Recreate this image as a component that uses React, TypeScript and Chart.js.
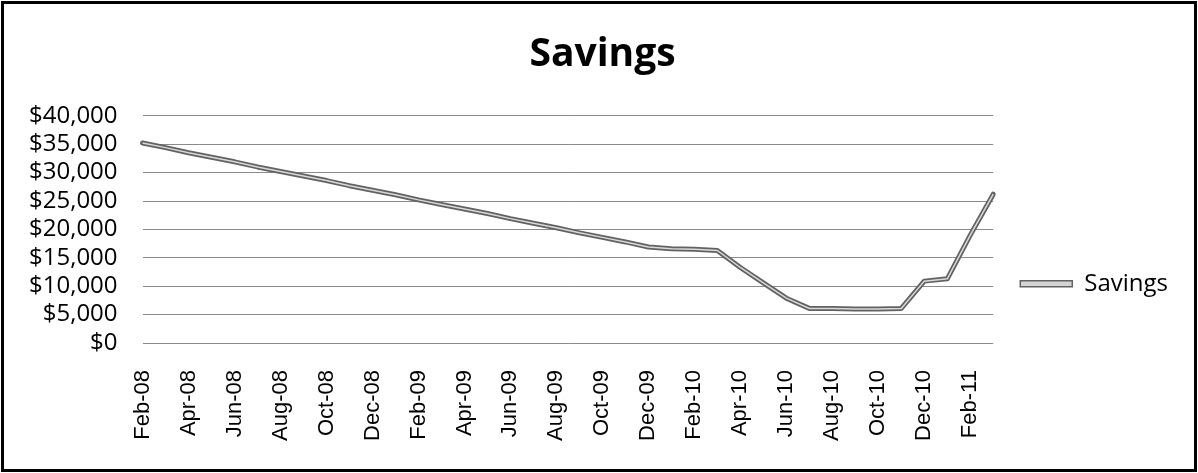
import React, { useEffect, useRef } from "react";
import { Chart, registerables } from "chart.js";

Chart.register(...registerables);

const months: string[] = [
  "Feb-08", "Mar-08", "Apr-08", "May-08", "Jun-08", "Jul-08", "Aug-08", "Sep-08",
  "Oct-08", "Nov-08", "Dec-08", "Jan-09", "Feb-09", "Mar-09", "Apr-09", "May-09",
  "Jun-09", "Jul-09", "Aug-09", "Sep-09", "Oct-09", "Nov-09", "Dec-09", "Jan-10",
  "Feb-10", "Mar-10", "Apr-10", "May-10", "Jun-10", "Jul-10", "Aug-10", "Sep-10",
  "Oct-10", "Nov-10", "Dec-10", "Jan-11", "Feb-11", "Mar-11",
];

const savings: number[] = [
  35200, 34400, 33500, 32700, 31900, 31000, 30200, 29400,
  28600, 27700, 26900, 26100, 25200, 24400, 23600, 22800,
  21900, 21100, 20300, 19400, 18600, 17800, 16900, 16600,
  16500, 16300, 13300, 10600, 7900, 6100, 6100, 6000,
  6000, 6100, 10900, 11300, 19000, 26200,
];

const yTicks: number[] = [0, 5000, 10000, 15000, 20000, 25000, 30000, 35000, 40000];

const seriesName = "Savings";
const titleText = "Savings";

export default function App() {
  const ref = useRef<HTMLCanvasElement | null>(null);

  useEffect(() => {
    if (!ref.current) return;
    const chart = new Chart(ref.current, {
      type: "line",
      data: {
        labels: months,
        datasets: [
          {
            label: seriesName,
            data: savings,
            borderColor: "#626262",
            backgroundColor: "#d4d4d4",
            borderWidth: 5,
            pointRadius: 0,
            tension: 0,
            borderCapStyle: "round",
            borderJoinStyle: "round",
            order: 2,
          },
          {
            label: "_inner",
            data: savings,
            borderColor: "#d8d8d8",
            backgroundColor: "#d8d8d8",
            borderWidth: 1.5,
            pointRadius: 0,
            tension: 0,
            order: 1,
          },
        ],
      },
      options: {
        animation: false,
        responsive: false,
        devicePixelRatio: 1,
        layout: { padding: { top: 25, right: 20, bottom: 5, left: 27 } },
        plugins: {
          title: {
            display: true,
            text: titleText,
            color: "#000",
            font: { family: "'Open Sans'", size: 39, weight: "bold" },
            padding: { top: 6, bottom: 38 },
          },
          legend: {
            position: "right",
            title: { display: true, text: " ", padding: 30, font: { size: 12 } },
            labels: {
              color: "#000",
              font: { family: "'Open Sans'", size: 24 },
              boxWidth: 52,
              boxHeight: 6,
              padding: 10,
              generateLabels: (c) => {
                const ds = c.data.datasets[0];
                return [
                  {
                    text: ds.label as string,
                    fillStyle: "#d4d4d4",
                    strokeStyle: "#626262",
                    lineWidth: 1.5,
                    hidden: false,
                    datasetIndex: 0,
                    fontColor: "#000",
                  },
                ];
              },
            },
          },
          tooltip: { enabled: false },
        },
        scales: {
          x: {
            offset: false,
            grid: { display: false, drawTicks: false },
            border: { display: false },
            ticks: {
              autoSkip: false,
              maxRotation: 90,
              minRotation: 90,
              padding: 27,
              color: "#000",
              font: { family: "'Liberation Sans'", size: 22 },
              callback: (_v, i) => (i % 2 === 0 ? months[i] : ""),
            },
          },
          y: {
            min: 0,
            max: 40000,
            afterBuildTicks: (axis) => {
              axis.ticks = yTicks.map((v) => ({ value: v }));
            },
            afterFit: (s) => {
              s.width = s.width - 23;
            },
            grid: { color: "#8a8a8a", lineWidth: 1, drawTicks: false },
            border: { display: false },
            ticks: {
              autoSkip: false,
              padding: 25,
              color: "#000",
              font: { family: "'Open Sans'", size: 24 },
              callback: (v) => "$" + Number(v).toLocaleString("en-US"),
            },
          },
          gap: {
            type: "linear",
            position: "right",
            display: true,
            grid: { display: false, drawTicks: false },
            border: { display: false },
            ticks: { display: false },
            afterFit: (s) => {
              s.width = 17;
            },
          },
        },
      },
    });
    return () => chart.destroy();
  }, []);

  return (
    <div style={{ position: "fixed", left: 0, top: 0, width: 1198, height: 473, background: "#fff" }}>
      <canvas ref={ref} width={1198} height={473} style={{ position: "absolute", left: 0, top: 0 }} />
      <div
        style={{
          position: "absolute",
          left: 1,
          top: 1,
          width: 1196,
          height: 471,
          boxSizing: "border-box",
          border: "3px solid #000",
          pointerEvents: "none",
        }}
      />
    </div>
  );
}
